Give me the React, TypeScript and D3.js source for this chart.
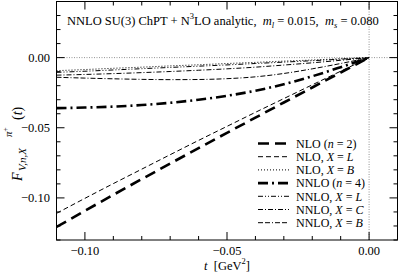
import React, { useEffect, useRef } from 'react';
import * as d3 from 'd3';

const W = 399, H = 273;
const MARGIN = { top: 1.5, right: 1.5, bottom: 33, left: 56.5 };
const INNER_W = W - MARGIN.left - MARGIN.right;
const INNER_H = H - MARGIN.top - MARGIN.bottom;
const FONT = '"Liberation Serif", "Times New Roman", serif';

// t grid [GeV^2]
const T = [-0.11, -0.10, -0.09, -0.08, -0.07, -0.06, -0.05, -0.04, -0.03, -0.02, -0.01, 0];

const nlo = [-0.1207, -0.1092, -0.0978, -0.0866, -0.0755, -0.0645, -0.0536, -0.0428, -0.0320, -0.0213, -0.0106, 0];
const nloL = [-0.1110, -0.1003, -0.0898, -0.0795, -0.0692, -0.0590, -0.0490, -0.0390, -0.0292, -0.0194, -0.0097, 0];
const nloB = [-0.0093, -0.0085, -0.0076, -0.0068, -0.0059, -0.0051, -0.0042, -0.0034, -0.0025, -0.0017, -0.0008, 0];
const nnlo = [-0.0360, -0.0356, -0.0349, -0.0338, -0.0322, -0.0300, -0.0272, -0.0236, -0.0190, -0.0133, -0.0068, 0];
const nnloL = [-0.0105, -0.0097, -0.0088, -0.0079, -0.0070, -0.0061, -0.0052, -0.0042, -0.0032, -0.0022, -0.0011, 0];
const nnloC = [-0.0125, -0.0120, -0.0114, -0.0107, -0.0099, -0.0090, -0.0080, -0.0068, -0.0053, -0.0037, -0.0019, 0];
const nnloB = [-0.0140, -0.0146, -0.0151, -0.0155, -0.0157, -0.0156, -0.0150, -0.0137, -0.0113, -0.0080, -0.0042, 0];

const X_TICKS = [-0.10, -0.05, 0.00];
const Y_TICKS = [0.00, -0.05, -0.10];

const SERIES = [
  { name: 'NLO', note: '(n = 2)', values: nlo, width: 2.6, dash: '11,6' },
  { name: 'NLO,', note: 'X = L', values: nloL, width: 1, dash: '5,3' },
  { name: 'NLO,', note: 'X = B', values: nloB, width: 1, dash: '1,2' },
  { name: 'NNLO', note: '(n = 4)', values: nnlo, width: 2.6, dash: '10,4,2,4' },
  { name: 'NNLO,', note: 'X = L', values: nnloL, width: 1, dash: '5,2,1,2,1,2' },
  { name: 'NNLO,', note: 'X = C', values: nnloC, width: 1, dash: '5,2,1,2' },
  { name: 'NNLO,', note: 'X = B', values: nnloB, width: 1, dash: '5,2,5,2,1,2' },
];

export default function App() {
  const ref = useRef<SVGSVGElement>(null);

  useEffect(() => {
    const svg = d3.select(ref.current);
    svg.selectAll('*').remove();

    const x = d3.scaleLinear().domain([-0.11, 0.01]).range([MARGIN.left, MARGIN.left + INNER_W]);
    const y = d3.scaleLinear().domain([-0.13, 0.04]).range([MARGIN.top + INNER_H, MARGIN.top]);

    svg.append('defs').append('clipPath').attr('id', 'plot-clip')
      .append('rect')
      .attr('x', MARGIN.left).attr('y', MARGIN.top)
      .attr('width', INNER_W).attr('height', INNER_H);

    // zero lines
    svg.append('line')
      .attr('x1', MARGIN.left).attr('x2', MARGIN.left + INNER_W)
      .attr('y1', y(0)).attr('y2', y(0))
      .attr('stroke', '#777').attr('stroke-width', 0.8).attr('stroke-dasharray', '1,1.5');
    svg.append('line')
      .attr('x1', x(0)).attr('x2', x(0))
      .attr('y1', MARGIN.top).attr('y2', MARGIN.top + INNER_H)
      .attr('stroke', '#777').attr('stroke-width', 0.8).attr('stroke-dasharray', '1,1.5');

    // ticks on all four sides
    const ticks = svg.append('g').attr('stroke', '#000').attr('stroke-width', 1);
    const xMinor = d3.range(-0.11, 0.0101, 0.01);
    xMinor.forEach(v => {
      const major = X_TICKS.some(m => Math.abs(m - v) < 1e-6);
      const len = major ? 8 : 4;
      ticks.append('line').attr('x1', x(v)).attr('x2', x(v))
        .attr('y1', MARGIN.top + INNER_H).attr('y2', MARGIN.top + INNER_H - len);
      ticks.append('line').attr('x1', x(v)).attr('x2', x(v))
        .attr('y1', MARGIN.top).attr('y2', MARGIN.top + len);
    });
    const yMinor = d3.range(-0.13, 0.0401, 0.01);
    yMinor.forEach(v => {
      const major = Y_TICKS.some(m => Math.abs(m - v) < 1e-6);
      const len = major ? 8 : 4;
      ticks.append('line').attr('y1', y(v)).attr('y2', y(v))
        .attr('x1', MARGIN.left).attr('x2', MARGIN.left + len);
      ticks.append('line').attr('y1', y(v)).attr('y2', y(v))
        .attr('x1', MARGIN.left + INNER_W).attr('x2', MARGIN.left + INNER_W - len);
    });

    // tick labels
    const fmt = d3.format('.2f');
    svg.append('g').selectAll('text').data(X_TICKS).join('text')
      .attr('x', d => x(d)).attr('y', 255)
      .attr('text-anchor', 'middle')
      .attr('font-family', FONT).attr('font-size', 12.5)
      .text(d => fmt(d));
    svg.append('g').selectAll('text').data(Y_TICKS).join('text')
      .attr('x', 50).attr('y', d => y(d) + 4.5)
      .attr('text-anchor', 'end')
      .attr('font-family', FONT).attr('font-size', 12.5)
      .text(d => fmt(d));

    // curves
    const line = d3.line<number>()
      .x((_, i) => x(T[i]))
      .y(d => y(d))
      .curve(d3.curveMonotoneX);
    const curves = svg.append('g').attr('clip-path', 'url(#plot-clip)');
    SERIES.forEach(s => {
      curves.append('path')
        .attr('d', line(s.values))
        .attr('fill', 'none').attr('stroke', '#000')
        .attr('stroke-width', s.width)
        .attr('stroke-dasharray', s.dash);
    });

    // frame
    svg.append('rect')
      .attr('x', MARGIN.left).attr('y', MARGIN.top)
      .attr('width', INNER_W).attr('height', INNER_H)
      .attr('fill', 'none').attr('stroke', '#000').attr('stroke-width', 1);

    // legend
    const leg = svg.append('g').attr('font-family', FONT).attr('font-size', 12);
    SERIES.forEach((s, i) => {
      const ly = 143.5 + i * 13.2;
      leg.append('line')
        .attr('x1', 258).attr('x2', 289).attr('y1', ly).attr('y2', ly)
        .attr('stroke', '#000').attr('stroke-width', s.width).attr('stroke-dasharray', s.dash);
      const t = leg.append('text').attr('x', 296).attr('y', ly + 4.2).style('white-space', 'pre');
      t.append('tspan').text(s.name + ' ');
      if (s.note.startsWith('(')) {
        t.append('tspan').text('(');
        t.append('tspan').attr('font-style', 'italic').text('n');
        t.append('tspan').text(' = ' + s.note.slice(5));
      } else {
        t.append('tspan').attr('font-style', 'italic').text('X');
        t.append('tspan').text(' = ');
        t.append('tspan').attr('font-style', 'italic').text(s.note.slice(4));
      }
    });

    // title
    const title = svg.append('text')
      .attr('x', 67).attr('y', 24.5)
      .attr('font-family', FONT).attr('font-size', 12.5)
      .style('white-space', 'pre');
    title.append('tspan').text('NNLO SU(3) ChPT + N');
    title.append('tspan').attr('font-size', 8.5).attr('dy', -6).text('3');
    title.append('tspan').attr('dy', 6).text('LO analytic,  ');
    title.append('tspan').attr('font-style', 'italic').text('m');
    title.append('tspan').attr('font-style', 'italic').attr('font-size', 8.5).attr('dy', 3).text('l');
    title.append('tspan').attr('dy', -3).text(' = 0.015,  ');
    title.append('tspan').attr('font-style', 'italic').text('m');
    title.append('tspan').attr('font-style', 'italic').attr('font-size', 8.5).attr('dy', 3).text('s');
    title.append('tspan').attr('dy', -3).text(' = 0.080');

    // x label
    const xl = svg.append('text')
      .attr('x', 227).attr('y', 269.5).attr('text-anchor', 'middle')
      .attr('font-family', FONT).attr('font-size', 12.5)
      .style('white-space', 'pre');
    xl.append('tspan').attr('font-style', 'italic').text('t');
    xl.append('tspan').text('  [GeV');
    xl.append('tspan').attr('font-size', 8.5).attr('dy', -6).text('2');
    xl.append('tspan').attr('dy', 6).text(']');

    // y label
    const yl = svg.append('g').attr('transform', 'translate(22,181) rotate(-90)')
      .attr('font-family', FONT);
    yl.append('text').attr('x', 0).attr('y', 0).attr('font-size', 14)
      .attr('font-style', 'italic').text('F');
    yl.append('text').attr('x', 10).attr('y', 4).attr('font-size', 11)
      .attr('font-style', 'italic').text('V,n,X');
    const sup = yl.append('text').attr('x', 44).attr('y', -10).attr('font-size', 11);
    sup.append('tspan').attr('font-style', 'italic').text('π');
    sup.append('tspan').attr('font-size', 7.5).attr('dy', -4).text('+');
    const tt = yl.append('text').attr('x', 61).attr('y', 0).attr('font-size', 14);
    tt.append('tspan').text('(');
    tt.append('tspan').attr('font-style', 'italic').text('t');
    tt.append('tspan').text(')');
  }, []);

  return (
    <svg
      ref={ref}
      width={W}
      height={H}
      style={{ position: 'absolute', left: 0, top: 0, background: '#fff' }}
    />
  );
}
